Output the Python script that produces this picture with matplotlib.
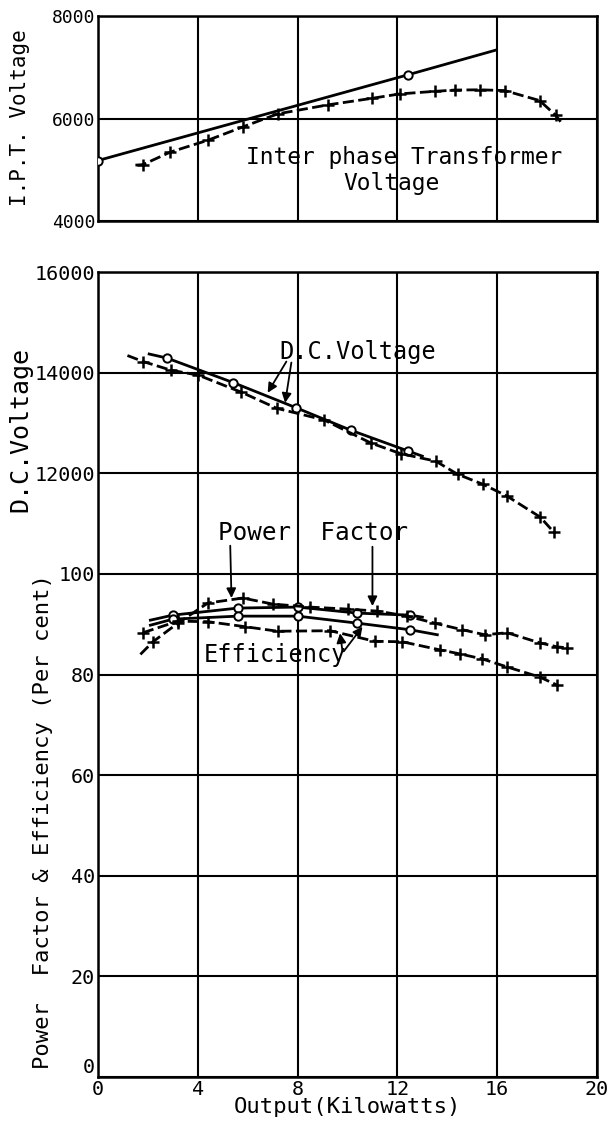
import numpy as np
import matplotlib.pyplot as plt

# ---- data (output in kW) ----
# interphase transformer voltage
ipt_solid_x = [0, 12.44, 15.95]
ipt_solid_v = [5180, 6855, 7335]
ipt_dash_x = [1.5, 1.8, 2.9, 4.4, 5.8, 7.2, 9.2, 11.0, 12.1, 13.5, 14.3, 15.3, 16.3, 17.7, 18.35, 18.6]
ipt_dash_v = [5090, 5100, 5345, 5575, 5835, 6090, 6265, 6395, 6480, 6530, 6555, 6560, 6545, 6350, 6060, 5900]

# d.c. voltage
dc_solid_x = [2.05, 2.76, 5.43, 7.95, 10.16, 12.44, 13.0]
dc_solid_v = [14370, 14290, 13800, 13300, 12850, 12440, 12340]
dc_dash_x = [1.18, 1.81, 2.91, 4.02, 5.75, 7.17, 9.06, 10.94, 12.13, 13.54, 14.41, 15.43, 16.38, 17.72, 18.27]
dc_dash_v = [14340, 14220, 14050, 13950, 13610, 13290, 13060, 12600, 12390, 12240, 11980, 11780, 11550, 11130, 10830]

# power factor (percent)
pf_solid_x = [2.1, 3.0, 5.6, 8.0, 10.4, 12.5, 13.0]
pf_solid = [90.8, 91.8, 93.2, 93.4, 92.2, 91.8, 91.4]
pf_dash_x = [1.7, 2.2, 3.2, 4.4, 5.8, 7.0, 8.5, 10.0, 11.2, 12.4, 13.5, 14.6, 15.5, 16.4, 17.7, 18.4, 18.8]
pf_dash = [84.0, 86.5, 90.2, 94.2, 95.2, 94.0, 93.4, 93.0, 92.6, 91.6, 90.2, 88.9, 87.9, 88.3, 86.3, 85.5, 85.3]

# efficiency (percent)
eff_solid_x = [2.1, 3.0, 5.6, 8.0, 10.4, 12.5, 13.6]
eff_solid = [89.8, 91.0, 91.6, 91.6, 90.2, 88.9, 87.9]
eff_dash_x = [1.8, 3.2, 4.4, 5.9, 7.2, 9.3, 11.1, 12.2, 13.7, 14.5, 15.4, 16.4, 17.7, 18.4]
eff_dash = [88.3, 90.6, 90.5, 89.5, 88.6, 88.7, 86.6, 86.5, 84.9, 84.1, 83.1, 81.5, 79.5, 77.9]

xticks = [0, 4, 8, 12, 16, 20]
top_ticks = [4000, 6000, 8000]
bot_ticks = [0, 20, 40, 60, 80, 100, 120, 140, 160]
bot_labels = ['0', '20', '40', '60', '80', '100', '12000', '14000', '16000']

plt.rcParams['font.family'] = 'DejaVu Sans Mono'
LW = 2.0
DASH = (4, 1.6)

fig = plt.figure(figsize=(6.15, 11.31), dpi=100)
W, H = 615.0, 1131.0
left, right = 98 / W, 597 / W
ax1 = fig.add_axes([left, 1 - 221 / H, right - left, 205 / H])
ax2 = fig.add_axes([left, 1 - 1077 / H, right - left, 805 / H])

solid = dict(color='k', lw=LW, marker='o', ms=6, mfc='white', mec='k', mew=1.4)
dashed = dict(color='k', lw=LW, dashes=DASH, marker='+', ms=9, mew=1.8)

# ---- top panel ----
ax1.plot(ipt_solid_x, ipt_solid_v, markevery=[0, 1], zorder=3, **solid)
ax1.plot(ipt_dash_x, ipt_dash_v, markevery=slice(1, -1), zorder=3, **dashed)
ax1.set_xlim(0, 20)
ax1.set_ylim(4000, 8000)
ax1.set_xticks(xticks)
ax1.set_xticklabels([])
ax1.set_yticks(top_ticks)
ax1.tick_params(labelsize=13)
ax1.text(5.95, 5230, 'Inter phase Transformer', ha='left', va='center', fontsize=16.5)
ax1.text(11.75, 4730, 'Voltage', ha='center', va='center', fontsize=16.5)

# ---- bottom panel ----
ax2.plot(dc_solid_x, np.array(dc_solid_v) / 100, markevery=[1, 2, 3, 4, 5], zorder=3, **solid)
ax2.plot(dc_dash_x, np.array(dc_dash_v) / 100, markevery=slice(1, None), zorder=3, **dashed)
ax2.plot(pf_solid_x, pf_solid, markevery=[1, 2, 3, 4, 5], zorder=3, **solid)
ax2.plot(eff_solid_x, eff_solid, markevery=[1, 2, 3, 4, 5], zorder=3, **solid)
ax2.plot(pf_dash_x, pf_dash, markevery=slice(1, None), zorder=3, **dashed)
ax2.plot(eff_dash_x, eff_dash, markevery=slice(0, None), zorder=3, **dashed)
ax2.set_xlim(0, 20)
ax2.set_ylim(0, 160)
ax2.set_xticks(xticks)
ax2.set_yticks(bot_ticks)
ax2.set_yticklabels(bot_labels)
ax2.tick_params(labelsize=14.5)
ax2.get_yticklabels()[0].set_verticalalignment('bottom')

arrow = dict(arrowstyle='-|>', color='k', lw=1.3, mutation_scale=14, shrinkA=0, shrinkB=0)
ax2.text(7.25, 144.1, 'D.C.Voltage', ha='left', va='center', fontsize=17)
ax2.annotate('', xy=(6.8, 136.0), xytext=(7.55, 142.2), arrowprops=arrow)
ax2.annotate('', xy=(7.5, 134.0), xytext=(7.75, 142.0), arrowprops=arrow)
ax2.text(8.6, 108.2, 'Power  Factor', ha='center', va='center', fontsize=17.5)
ax2.annotate('', xy=(5.35, 95.2), xytext=(5.3, 105.6), arrowprops=arrow)
ax2.annotate('', xy=(11.0, 93.6), xytext=(11.0, 105.4), arrowprops=arrow)
ax2.text(7.1, 83.9, 'Efficiency', ha='center', va='center', fontsize=17)
ax2.annotate('', xy=(9.7, 88.2), xytext=(9.8, 84.6), arrowprops=arrow)
ax2.annotate('', xy=(10.6, 89.5), xytext=(9.85, 84.6), arrowprops=arrow)

ax2.set_xlabel('Output(Kilowatts)', fontsize=16, labelpad=-1)

for ax in (ax1, ax2):
    ax.grid(True, color='k', lw=1.5)
    ax.set_axisbelow(True)
    ax.tick_params(length=0, pad=2)
    for s in ax.spines.values():
        s.set_linewidth(1.8)

fig.text(20 / W, 1 - 118 / H, 'I.P.T. Voltage', rotation=90, ha='center', va='center', fontsize=15)
fig.text(20 / W, 1 - 430 / H, 'D.C.Voltage', rotation=90, ha='center', va='center', fontsize=18)
fig.text(43 / W, 1 - 822 / H, 'Power  Factor & Efficiency (Per cent)', rotation=90,
         ha='center', va='center', fontsize=16)

fig.savefig('out.png', dpi=100)
